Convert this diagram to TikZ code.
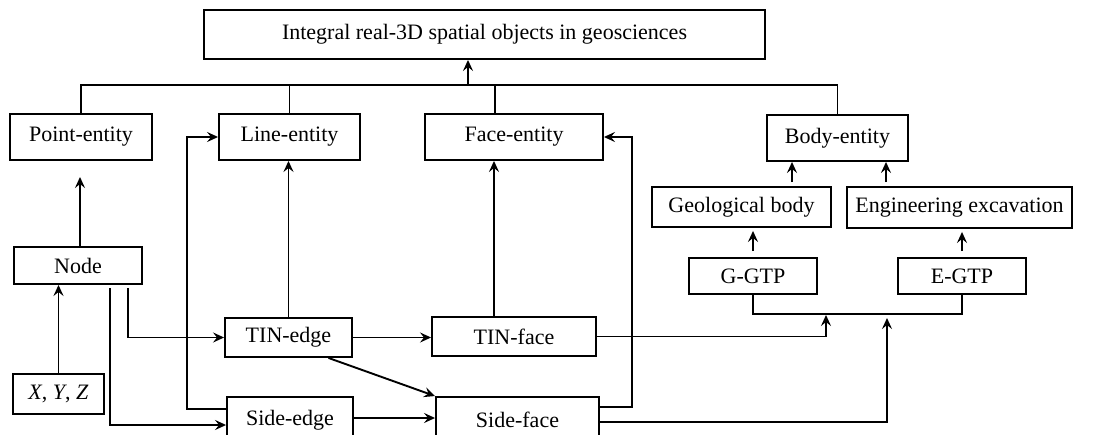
\documentclass[tikz,border=0pt]{standalone}
\usepackage{fontspec}
\setmainfont{Liberation Serif}
\usetikzlibrary{arrows.meta,calc}
\begin{document}
\begin{tikzpicture}[x=1pt,y=-1pt,
  box/.style={draw,line width=1.9pt,inner sep=0pt,font=\fontsize{22}{26}\selectfont},
  con/.style={line width=1.9pt},
  arr/.style={con,-{Stealth[length=11pt,width=10pt,inset=4pt]}}]
\useasboundingbox (0,0) rectangle (1109,434);
\clip (0,0) rectangle (1109,434);
% nodes
\node[box,minimum width=561pt,minimum height=49pt] (top) at (484.5,34.5) {Integral real-3D spatial objects in geosciences};
\node[box,minimum width=142pt,minimum height=46pt] (point) at (81,137) {Point-entity};
\node[box,minimum width=141pt,minimum height=46pt] (line) at (289.5,137) {Line-entity};
\node[box,minimum width=178pt,minimum height=46pt] (face) at (514,137) {Face-entity};
\node[box,minimum width=141pt,minimum height=46pt] (body) at (837.5,138) {Body-entity};
\node[box,minimum width=179pt,minimum height=40pt] (geo) at (741.5,207) {Geological body};
\node[box,minimum width=225pt,minimum height=41pt] (eng) at (959.5,207.5) {Engineering excavation};
\node[box,minimum width=128pt,minimum height=36pt] (ggtp) at (753,276) {G-GTP};
\node[box,minimum width=128pt,minimum height=36pt] (egtp) at (962,276) {E-GTP};
\node[box,minimum width=128pt,minimum height=37pt] (node) at (78,265.5) {Node};
\node[box,minimum width=91pt,minimum height=40pt] (xyz) at (58.5,394) {\textit{X}, \textit{Y}, \textit{Z}};
\node[box,minimum width=127pt,minimum height=39pt] (tinedge) at (288.5,337.5) {TIN-edge};
\node[box,minimum width=164pt,minimum height=39pt] (tinface) at (514,336.5) {TIN-face};
\node[box,minimum width=126pt,minimum height=46pt] (sideedge) at (290,420) {Side-edge};
\node[box,minimum width=163pt,minimum height=46pt] (sideface) at (517.5,420) {Side-face};
% helper coordinates
\coordinate (bus) at (468,85);
\coordinate (fdrop) at (495,85);
\coordinate (ptip) at (80,177);
\coordinate (n1) at (128,288);
\coordinate (n2) at (110,288);
\coordinate (fx) at (494,0);
\coordinate (b1) at (826,315);
\coordinate (b2) at (887,318);
\coordinate (gb) at (0,314);
\coordinate (gx) at (792,0);
\coordinate (ex) at (886,0);
% top bus
\draw[con] (point.north) -- (point.north |- bus) -- (body.north |- bus) -- (body.north);
\draw[con] (line.north) -- (line.north |- bus);
\draw[con] (fdrop) -- (fdrop |- face.north);
\draw[arr] (bus) -- (bus |- top.south);
% left part
\draw[arr] (xyz.north) -- (node.south -| xyz.north);
\draw[arr] (ptip |- node.north) -- (ptip);
\draw[arr] (n1) |- (tinedge.west);
\draw[arr] (n2) |- ([yshift=-5pt]sideedge.west);
\draw[arr] ([yshift=11pt]sideedge.west) -- ++(-39,0) |- (line.west);
\draw[arr] (tinedge.north) -- (tinedge.north |- line.south);
\draw[arr] (tinedge.east) -- (tinedge.east -| tinface.west);
\draw[arr] (fx |- tinface.north) -- (fx |- face.south);
\draw[arr] ([xshift=40pt]tinedge.south) -- (sideface.north west);
\draw[arr] ([yshift=2pt]sideedge.east) -- ([yshift=2pt]sideface.west);
\draw[arr] ([yshift=13pt]sideface.east) -- ++(32,0) |- (face.east);
% right part
\draw[arr] (tinface.east) -| (b1);
\draw[arr] ([yshift=-2pt]sideface.east) -| (b2);
\draw[con] (ggtp.south) -- (ggtp.south |- gb) -- (egtp.south |- gb) -- (egtp.south);
\draw[arr] ($(ggtp.north)+(0,-6)$) -- ($(ggtp.north |- geo.south)+(0,3)$);
\draw[arr] ($(egtp.north)+(0,-6)$) -- ($(egtp.north |- eng.south)+(0,3)$);
\draw[arr] ($(gx |- geo.north)+(0,-4)$) -- (gx |- body.south);
\draw[arr] ($(ex |- eng.north)+(0,-4)$) -- (ex |- body.south);
\end{tikzpicture}
\end{document}
